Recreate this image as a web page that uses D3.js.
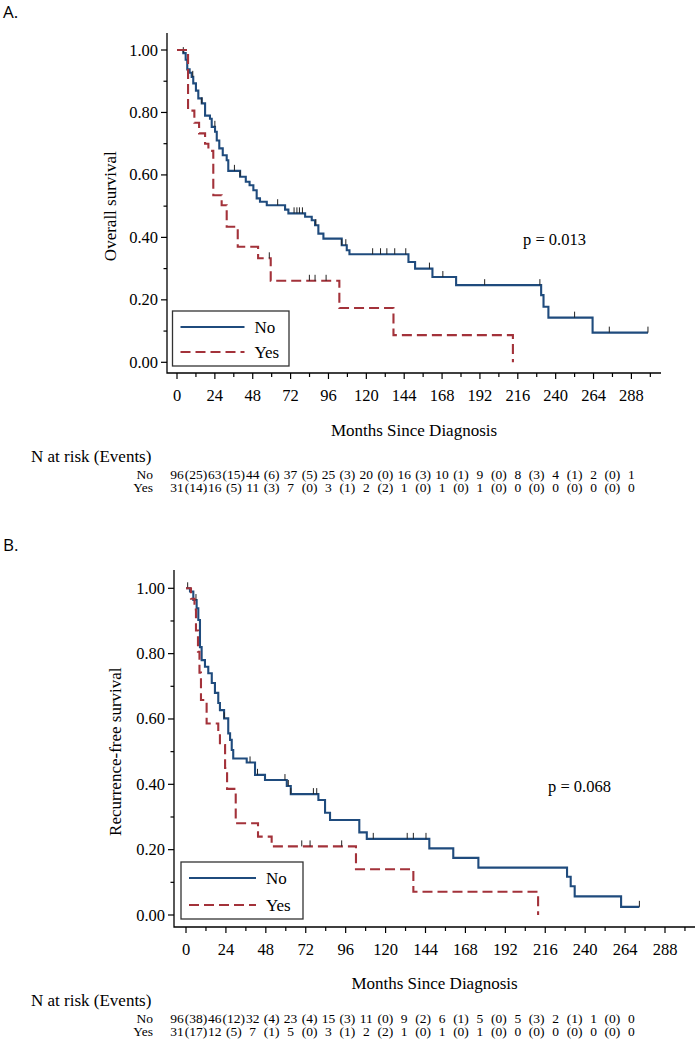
<!DOCTYPE html>
<html><head><meta charset="utf-8">
<script src="https://cdn.jsdelivr.net/npm/d3@7"></script>
<style>body{margin:0;background:#fff}svg{display:block}</style>
</head><body><svg id="c" width="695" height="1050"></svg>
<script>
// ---------- data ----------
const groups = ["No", "Yes"];
const monthTicks = [0, 24, 48, 72, 96, 120, 144, 168, 192, 216, 240, 264, 288];
const monthMinor = [12, 36, 60, 84, 108, 132, 156, 180, 204, 228, 252, 276, 300];
const survTicks = [0, 0.2, 0.4, 0.6, 0.8, 1.0];
const survMinor = [0.1, 0.3, 0.5, 0.7, 0.9];

// Panel A : overall survival
const osNoTime = [0, 4, 5.5, 6.5, 8, 9.3, 10.3, 12, 13.5, 15.7, 17.8, 20.9, 22, 24.1, 25.2, 26.8, 29, 31.5, 32.5, 40, 43.6, 46, 48.4, 50.5, 52.6, 56.9, 68.5, 70.6, 81.2, 85.4, 87.5, 89.6, 92.8, 104.4, 107.6, 109.3, 146.7, 150.9, 161.9, 176.9, 230.8, 232.3, 235.4, 263.4, 298.5];
const osNoSurv = [1, 0.99, 0.969, 0.938, 0.927, 0.914, 0.893, 0.87, 0.845, 0.829, 0.79, 0.78, 0.754, 0.738, 0.71, 0.685, 0.663, 0.647, 0.613, 0.594, 0.578, 0.567, 0.551, 0.525, 0.514, 0.503, 0.489, 0.477, 0.466, 0.455, 0.439, 0.412, 0.396, 0.375, 0.359, 0.346, 0.321, 0.30, 0.273, 0.247, 0.215, 0.178, 0.143, 0.095, 0.095];
const osYesTime = [0, 7, 11, 14, 17.8, 19.9, 23, 28.3, 31.5, 38.5, 51.4, 59.4, 102.9, 137.2, 212.9];
const osYesSurv = [1, 0.806, 0.767, 0.733, 0.70, 0.677, 0.535, 0.503, 0.434, 0.37, 0.333, 0.261, 0.174, 0.087, 0];
const osNoCensor = [4, 10, 15.7, 24, 36.4, 40, 63.8, 74.2, 76, 77.6, 79.5, 88, 104.4, 107, 124, 129, 133, 138, 145, 160, 168.5, 195, 230, 252, 274, 298.5];
const osYesCensor = [58.5, 83.9, 87.5, 94.5];
const osRiskNo = [96, 63, 44, 37, 25, 20, 16, 10, 9, 8, 4, 2, 1];
const osEventsNo = [25, 15, 6, 5, 3, 0, 3, 1, 0, 3, 1, 0];
const osRiskYes = [31, 16, 11, 7, 3, 2, 1, 1, 1, 0, 0, 0, 0];
const osEventsYes = [14, 5, 3, 0, 1, 2, 0, 0, 0, 0, 0, 0];
const osP = "p = 0.013";

// Panel B : recurrence-free survival
const rfsNoTime = [0, 2.4, 4.4, 6.4, 7.4, 8.4, 9.4, 11.4, 13.4, 15.5, 17.4, 19.4, 20.4, 22.9, 25.4, 26.5, 27.5, 28.4, 36.5, 41.5, 47.5, 60.6, 63, 79.6, 83.6, 86.6, 104.2, 108.7, 146.3, 160.7, 175.8, 229.1, 231.3, 233.7, 261.6, 272.6];
const rfsNoSurv = [1, 0.99, 0.964, 0.939, 0.903, 0.82, 0.78, 0.76, 0.74, 0.71, 0.68, 0.649, 0.627, 0.602, 0.556, 0.536, 0.505, 0.479, 0.467, 0.429, 0.413, 0.395, 0.37, 0.352, 0.313, 0.291, 0.253, 0.233, 0.204, 0.175, 0.145, 0.117, 0.088, 0.057, 0.025, 0.025];
const rfsYesTime = [0, 3, 5.1, 6, 7.2, 8.1, 9, 12.4, 19.4, 20.4, 23.5, 24.7, 29.9, 43.3, 51.5, 102.2, 136.7, 211.7];
const rfsYesSurv = [1, 0.968, 0.935, 0.871, 0.806, 0.742, 0.658, 0.586, 0.556, 0.52, 0.45, 0.386, 0.281, 0.24, 0.21, 0.14, 0.071, 0];
const rfsNoCensor = [1, 6, 23, 38.5, 43, 59.5, 61.5, 63, 76.6, 78.6, 112.6, 133, 136.7, 144.3, 272.6];
const rfsYesCensor = [69.6, 74.6, 93.6];
const rfsRiskNo = [96, 46, 32, 23, 15, 11, 9, 6, 5, 5, 2, 1, 0];
const rfsEventsNo = [38, 12, 4, 4, 3, 0, 2, 1, 0, 3, 1, 0];
const rfsRiskYes = [31, 12, 7, 5, 3, 2, 1, 1, 1, 0, 0, 0, 0];
const rfsEventsYes = [17, 5, 1, 0, 1, 2, 0, 0, 0, 0, 0, 0];
const rfsP = "p = 0.068";

// ---------- drawing ----------
const BLUE = "#1f4b7d", RED = "#a3323a";
const SERIF = "'Liberation Serif','Times New Roman',serif";
const svg = d3.select("#c");
svg.append("rect").attr("width", 695).attr("height", 1050).attr("fill", "#fff");

function survAt(times, surv, t) {
  let s = surv[0];
  for (let i = 0; i < times.length; i++) if (times[i] <= t) s = surv[i];
  return s;
}

function drawPanel(c) {
  const g = svg.append("g");
  const x = d3.scaleLinear().domain([0, 288]).range([c.x0, c.x288]);
  const y = d3.scaleLinear().domain([0, 1]).range([c.y0, c.y1]);

  g.append("text").attr("x", 3).attr("y", c.letterY).text(c.letter)
    .attr("font-family", "'Open Sans','Liberation Sans',sans-serif").attr("font-size", 17).attr("fill", "#000");

  g.append("path").attr("d", `M${c.yAxisX},${c.yTop}V${c.xAxisY}H${c.axisRight}`)
    .attr("fill", "none").attr("stroke", "#000").attr("stroke-width", 1.3);
  survTicks.forEach(v => {
    g.append("line").attr("x1", c.yAxisX - 6).attr("x2", c.yAxisX).attr("y1", y(v)).attr("y2", y(v)).attr("stroke", "#000").attr("stroke-width", 1.2);
    g.append("text").attr("x", c.yAxisX - 9).attr("y", y(v) + 5.5).attr("text-anchor", "end")
      .attr("font-family", SERIF).attr("font-size", 16.5).text(v.toFixed(2));
  });
  survMinor.forEach(v => {
    g.append("line").attr("x1", c.yAxisX - 3.5).attr("x2", c.yAxisX).attr("y1", y(v)).attr("y2", y(v)).attr("stroke", "#000").attr("stroke-width", 1.2);
  });
  monthTicks.forEach(v => {
    g.append("line").attr("x1", x(v)).attr("x2", x(v)).attr("y1", c.xAxisY).attr("y2", c.xAxisY + 6).attr("stroke", "#000").attr("stroke-width", 1.2);
    g.append("text").attr("x", x(v)).attr("y", c.xAxisY + 28).attr("text-anchor", "middle")
      .attr("font-family", SERIF).attr("font-size", 16.5).text(v);
  });
  monthMinor.forEach(v => {
    g.append("line").attr("x1", x(v)).attr("x2", x(v)).attr("y1", c.xAxisY).attr("y2", c.xAxisY + 4).attr("stroke", "#000").attr("stroke-width", 1.2);
  });

  g.append("text").attr("transform", `translate(${c.yLabelX},${(c.y0 + c.y1) / 2}) rotate(-90)`)
    .attr("text-anchor", "middle").attr("dy", "0.35em").attr("font-family", SERIF).attr("font-size", 17).text(c.yLabel);
  g.append("text").attr("x", (c.yAxisX + c.axisRight) / 2).attr("y", c.xTitleY).attr("text-anchor", "middle")
    .attr("font-family", SERIF).attr("font-size", 17).text("Months Since Diagnosis");

  const line = d3.line().x(d => x(d[0])).y(d => y(d[1])).curve(d3.curveStepAfter);
  c.series.forEach(s => {
    const pts = s.time.map((t, i) => [t, s.surv[i]]);
    g.append("path").attr("d", line(pts)).attr("fill", "none").attr("stroke", s.color)
      .attr("stroke-width", 2.1).attr("stroke-dasharray", s.dash || null);
    s.censor.forEach(t => {
      const v = survAt(s.time, s.surv, t);
      g.append("line").attr("x1", x(t)).attr("x2", x(t)).attr("y1", y(v) - 6).attr("y2", y(v))
        .attr("stroke", "#222").attr("stroke-width", 1);
    });
  });

  g.append("text").attr("x", c.pX).attr("y", c.pY).attr("font-family", SERIF).attr("font-size", 16.5).text(c.p);

  const L = c.legend;
  g.append("rect").attr("x", L.x).attr("y", L.y).attr("width", L.w).attr("height", L.h)
    .attr("fill", "#fff").attr("stroke", "#333").attr("stroke-width", 1.3);
  c.series.forEach((s, i) => {
    const ly = L.y + L.row0 + i * L.rowGap;
    g.append("line").attr("x1", L.x + 8).attr("x2", L.x + 8 + L.lineW).attr("y1", ly).attr("y2", ly)
      .attr("stroke", s.color).attr("stroke-width", 2.1).attr("stroke-dasharray", s.dash || null);
    g.append("text").attr("x", L.x + 18 + L.lineW).attr("y", ly + 6).attr("font-family", SERIF).attr("font-size", 17).text(groups[i]);
  });

  const xt = d3.scaleLinear().domain([0, 288]).range([177, 631.4]);
  g.append("text").attr("x", 31).attr("y", c.tableTitleY).attr("font-family", SERIF).attr("font-size", 17).text("N at risk (Events)");
  c.table.forEach((row, r) => {
    const ty = c.tableRowY[r];
    g.append("text").attr("x", 153).attr("y", ty).attr("text-anchor", "end").attr("font-family", SERIF).attr("font-size", 13.5).text(groups[r]);
    row.risk.forEach((n, i) => {
      g.append("text").attr("x", xt(monthTicks[i])).attr("y", ty).attr("text-anchor", "middle")
        .attr("font-family", SERIF).attr("font-size", 13.5).text(n);
    });
    row.events.forEach((e, i) => {
      g.append("text").attr("x", xt(monthMinor[i])).attr("y", ty).attr("text-anchor", "middle")
        .attr("font-family", SERIF).attr("font-size", 13.5).text("(" + e + ")");
    });
  });
}

drawPanel({
  letter: "A.", letterY: 18,
  x0: 177, x288: 631.4, y0: 362.3, y1: 50,
  yAxisX: 167, yTop: 33, xAxisY: 373, axisRight: 661,
  yLabel: "Overall survival", yLabelX: 110, xTitleY: 436,
  p: osP, pX: 523, pY: 245,
  legend: {x: 172.5, y: 311, w: 116.5, h: 55, row0: 16, rowGap: 25, lineW: 64},
  series: [
    {time: osNoTime, surv: osNoSurv, censor: osNoCensor, color: BLUE},
    {time: osYesTime, surv: osYesSurv, censor: osYesCensor, color: RED, dash: "10,5"}
  ],
  tableTitleY: 462, tableRowY: [479, 492],
  table: [{risk: osRiskNo, events: osEventsNo}, {risk: osRiskYes, events: osEventsYes}]
});

drawPanel({
  letter: "B.", letterY: 551,
  x0: 186, x288: 665, y0: 915, y1: 588.3,
  yAxisX: 174, yTop: 570, xAxisY: 927, axisRight: 695,
  yLabel: "Recurrence-free survival", yLabelX: 115, xTitleY: 989,
  p: rfsP, pX: 548, pY: 792,
  legend: {x: 181, y: 862, w: 122, h: 57, row0: 16, rowGap: 27, lineW: 67},
  series: [
    {time: rfsNoTime, surv: rfsNoSurv, censor: rfsNoCensor, color: BLUE},
    {time: rfsYesTime, surv: rfsYesSurv, censor: rfsYesCensor, color: RED, dash: "10,5"}
  ],
  tableTitleY: 1006, tableRowY: [1023, 1036],
  table: [{risk: rfsRiskNo, events: rfsEventsNo}, {risk: rfsRiskYes, events: rfsEventsYes}]
});
</script></body></html>
